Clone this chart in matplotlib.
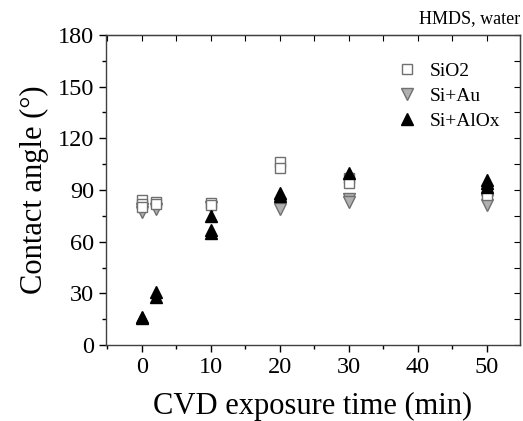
import numpy as np
import matplotlib
matplotlib.use("Agg")
import matplotlib.pyplot as plt
from matplotlib.ticker import MultipleLocator

plt.rcParams['font.family'] = ['Liberation Serif', 'DejaVu Serif']

# CVD exposure time (min) and contact angle (deg) per substrate
t_sio2 = [0, 0, 0, 2, 2, 10, 10, 20, 20, 30, 30, 50, 50]
ca_sio2 = [84, 82, 80, 83, 82, 82.5, 81, 106, 103, 97, 94, 90, 87]

t_au = [0, 0, 2, 10, 20, 20, 30, 30, 50, 50]
ca_au = [79, 77, 79, 80, 81, 79, 85, 83, 84, 81]

t_alox = [0, 0, 2, 2, 10, 10, 10, 20, 20, 30, 50, 50, 50]
ca_alox = [16.5, 15.5, 31, 28, 75, 67, 65, 88.5, 86.5, 100, 96, 94, 92]

fig = plt.figure(figsize=(5.23, 4.21), dpi=100)
ax = fig.add_axes([0.2027, 0.1805, 0.7916, 0.7364])

ax.plot(t_sio2, ca_sio2, 's', ms=7, mfc='white', mec='#707070', mew=1.0,
        label='SiO2', zorder=3)
ax.plot(t_au, ca_au, 'v', ms=8, mfc='#b0b0b0', mec='#707070', mew=1.0,
        label='Si+Au', zorder=2)
ax.plot(t_alox, ca_alox, '^', ms=8, mfc='black', mec='black', mew=1.0,
        label='Si+AlOx', zorder=4)

ax.set_xlim(-5.2, 54.8)
ax.set_ylim(0, 180)
ax.xaxis.set_major_locator(MultipleLocator(10))
ax.xaxis.set_minor_locator(MultipleLocator(5))
ax.yaxis.set_major_locator(MultipleLocator(30))
ax.yaxis.set_minor_locator(MultipleLocator(15))

ax.tick_params(which='both', direction='out', top=False, right=False,
               labelsize=17.5, width=1)
ax.tick_params(which='major', length=5)
ax.tick_params(which='minor', length=3)

# mirrored inward ticks on top and right
for s in ax.spines.values():
    s.set_color('#404040')
    s.set_linewidth(1)
sec_x = ax.secondary_xaxis('top')
sec_x.xaxis.set_major_locator(MultipleLocator(5))
sec_x.tick_params(direction='in', length=4, labeltop=False)
sec_y = ax.secondary_yaxis('right')
sec_y.yaxis.set_major_locator(MultipleLocator(15))
sec_y.tick_params(direction='in', length=4, labelright=False)

ax.set_xlabel('CVD exposure time (min)', fontsize=22, labelpad=10)
ax.set_ylabel('Contact angle (°)', fontsize=22, labelpad=6)

leg = ax.legend(loc='upper right', frameon=False, fontsize=14,
                handletextpad=0.2, borderaxespad=0.6, labelspacing=0.38,
                bbox_to_anchor=(1.0, 0.975))

fig.text(0.995, 0.955, 'HMDS, water', ha='right', va='center', fontsize=13)

fig.savefig('out.png', dpi=100)
